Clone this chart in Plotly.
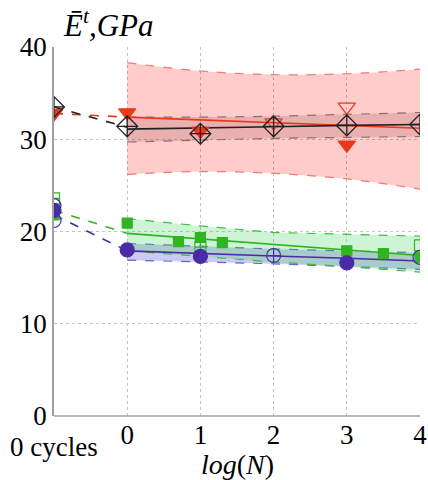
import plotly.graph_objects as go

# positions along log(N); -1 stands for the "0 cycles" state
x_fit = [0, 1, 2, 3, 4]
x_link = [-1, 0]

# red series (triangles)
red_fill_x = [-1, 0, 1, 3]
red_fill_y = [32.8, 32.9, 30.9, 29.4]
red_open_x = [2, 3]
red_open_y = [31.8, 33.5]
red_fit = [32.4, 32.1, 31.8, 31.5, 31.2]
red_hi = [38.3, 37.4, 37.0, 37.1, 37.6]
red_lo = [26.2, 26.5, 26.3, 25.7, 24.6]
red_link = [32.8, 32.4]

# black series (diamonds)
blk_x = [-1, 0, 1, 2, 3, 4]
blk_y = [33.5, 31.4, 30.6, 31.4, 31.5, 31.6]
blk_fit = [31.1, 31.2, 31.35, 31.5, 31.6]
blk_hi = [32.4, 32.4, 32.5, 32.7, 32.9]
blk_lo = [29.7, 29.9, 30.1, 30.2, 30.3]
blk_link = [33.5, 31.3]

# green series (squares)
grn_fill_x = [-1, 0, 0.7, 1, 1.3, 3, 3.5, 4]
grn_fill_y = [21.8, 20.9, 18.9, 19.35, 18.8, 17.9, 17.6, 17.2]
grn_open_x = [-1, -1, 4]
grn_open_y = [23.6, 23.0, 18.5]
grn_cross_x = [1]
grn_cross_y = [18.3]
grn_fit = [19.8, 19.2, 18.6, 18.0, 17.4]
grn_hi = [21.4, 20.6, 19.9, 19.7, 19.5]
grn_lo = [17.9, 17.3, 16.7, 16.2, 15.6]
grn_link = [22.3, 19.8]

# blue series (circles)
blu_fill_x = [-1, 0, 1, 3]
blu_fill_y = [22.3, 18.0, 17.3, 16.6]
blu_open_x = [-1, -1, 4]
blu_open_y = [21.2, 22.8, 17.2]
blu_cross_x = [2]
blu_cross_y = [17.4]
blu_fit = [17.9, 17.6, 17.35, 17.1, 16.8]
blu_hi = [18.7, 18.4, 18.1, 17.9, 17.7]
blu_lo = [16.9, 16.7, 16.5, 16.2, 15.9]
blu_link = [21.8, 17.9]

y_ticks = [0, 10, 20, 30, 40]
x_ticks = [0, 1, 2, 3, 4]

RED = "#e8391a"
BLK = "#222222"
GRN = "#2eb520"
BLU = "#4a2ba6"
SERIF = "Liberation Serif"

fig = go.Figure()


def band(hi, lo, fill, edge, shape):
    # lower edge first, upper edge filled down to it
    fig.add_trace(go.Scatter(
        x=x_fit, y=lo, mode="lines", showlegend=False, hoverinfo="skip",
        line=dict(color=edge, width=1.2, dash="dash", shape=shape)))
    fig.add_trace(go.Scatter(
        x=x_fit, y=hi, mode="lines", showlegend=False, hoverinfo="skip",
        fill="tonexty", fillcolor=fill,
        line=dict(color=edge, width=1.2, dash="dash", shape=shape)))


band(red_hi, red_lo, "rgba(255,0,0,0.2)", "#f27a6e", "spline")
band(blk_hi, blk_lo, "rgba(150,60,60,0.2)", "#8a7070", "spline")
band(blu_hi, blu_lo, "rgba(90,80,210,0.3)", "#6b5fd0", "linear")
band(grn_hi, grn_lo, "rgba(60,210,90,0.25)", "#3cc03c", "linear")


def line(x, y, color, dash, width=1.6):
    fig.add_trace(go.Scatter(x=x, y=y, mode="lines", showlegend=False,
                             line=dict(color=color, width=width, dash=dash)))


for fit, link, c in ((red_fit, red_link, RED), (blk_fit, blk_link, BLK),
                     (grn_fit, grn_link, GRN), (blu_fit, blu_link, BLU)):
    line(x_fit, fit, c, "solid")
    line(x_link, link, c, "dash")


def pts(x, y, symbol, color, size, width=1.2):
    fig.add_trace(go.Scatter(
        x=x, y=y, mode="markers", showlegend=False,
        marker=dict(symbol=symbol, size=size, color=color,
                    line=dict(color=color, width=width))))


pts(grn_fill_x, grn_fill_y, "square", GRN, 10)
pts(grn_open_x, grn_open_y, "square-open", GRN, 11)
pts(grn_cross_x, grn_cross_y, "square-cross-open", GRN, 11)
pts(blu_fill_x, blu_fill_y, "circle", BLU, 14)
pts(blu_open_x, blu_open_y, "circle-open", BLU, 14)
pts(blu_cross_x, blu_cross_y, "circle-cross-open", BLU, 14)
pts(red_fill_x, red_fill_y, "triangle-down", RED, 15)
pts(red_open_x, red_open_y, "triangle-down-open", RED, 15)
pts(blk_x, blk_y, "diamond-cross-open", BLK, 16, 1.3)

grid = dict(showgrid=True, gridcolor="#c4c4c4", griddash="dot", gridwidth=1,
            zeroline=False, ticks="", automargin=False,
            tickfont=dict(family=SERIF, size=27, color="black"))

fig.update_xaxes(range=[-1, 4], tickvals=x_ticks,
                 ticktext=[str(v) for v in x_ticks],
                 ticklabeloverflow="allow", showline=False, **grid)
fig.update_yaxes(range=[0, 40], tickvals=y_ticks,
                 ticktext=[str(v) for v in y_ticks],
                 showline=True, linecolor="#a0a0a0", linewidth=1.5, **grid)

# solid bottom axis (x gridline at 0 is the baseline)
fig.add_shape(type="line", xref="paper", yref="paper", x0=0, x1=1, y0=0, y1=0,
              line=dict(color="#a0a0a0", width=1.5))

fig.add_annotation(text="<i>Ē</i><sup><i>t</i></sup><i>,GPa</i>",
                   xref="paper", yref="paper", x=0.02, y=1.0, yshift=24,
                   xanchor="left", yanchor="middle", showarrow=False,
                   font=dict(family=SERIF, size=31, color="black"))
fig.add_annotation(text="0 cycles", xref="x", yref="paper", x=-1, y=0,
                   yshift=-31, xanchor="center", yanchor="middle",
                   showarrow=False,
                   font=dict(family=SERIF, size=27, color="black"))
fig.add_annotation(text="<i>log</i>(<i>N</i>)", xref="paper", yref="paper",
                   x=0.5, y=0, yshift=-48, xanchor="center",
                   yanchor="middle", showarrow=False,
                   font=dict(family=SERIF, size=28, color="black"))

fig.update_layout(width=428, height=480,
                  margin=dict(l=54, r=8, t=47, b=64),
                  plot_bgcolor="white", paper_bgcolor="white")

fig.write_html("out.html")
